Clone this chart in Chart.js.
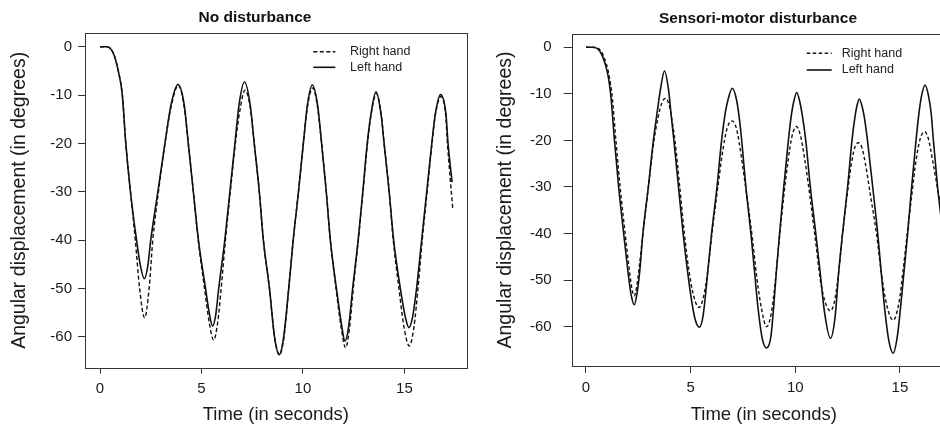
<!DOCTYPE html>
<html>
<head>
<meta charset="utf-8">
<script src="https://cdn.jsdelivr.net/npm/chart.js"></script>
<style>
  html, body { margin: 0; padding: 0; background: #fff; overflow: hidden; }
  #page { position: relative; width: 940px; height: 429px; overflow: hidden; background: #fff; }
  canvas { position: absolute; top: 0; }
  #cNone { left: 0; }
  #cSensori { left: 470px; }
</style>
</head>
<body>
<div id="page">
  <canvas id="cNone" width="470" height="429"></canvas>
  <canvas id="cSensori" width="500" height="429"></canvas>
</div>
<script>
// Angular displacement (degrees) over time (seconds), as [time, angle] pairs.

// Panel 1: no disturbance
const noDistRightHand = [
  [0,0],[0.3,0],[0.5,-0.3],[0.7,-1.8],[0.9,-5],[1.1,-10],[1.27,-20],[1.5,-30],[1.74,-40],[1.95,-50],
  [2.2,-56.1],[2.42,-50],[2.6,-40],[2.88,-30],[3.2,-20],[3.5,-12.5],[3.86,-8],[4.15,-12.5],[4.35,-20],
  [4.6,-30],[4.84,-40],[5.15,-50],[5.38,-57],[5.6,-60.7],[5.8,-57],[5.97,-50],[6.18,-40],[6.42,-30],
  [6.67,-20],[6.9,-13],[7.14,-9],[7.4,-12.5],[7.6,-20],[7.85,-30],[8.05,-40],[8.35,-50],[8.6,-60],
  [8.85,-63.7],[9.07,-60],[9.3,-50],[9.52,-40],[9.78,-30],[10.02,-20],[10.22,-12.5],[10.48,-8.5],
  [10.72,-12.5],[10.92,-20],[11.15,-30],[11.35,-40],[11.63,-50],[11.88,-58],[12.1,-62.3],[12.3,-58],
  [12.48,-50],[12.73,-40],[12.96,-30],[13.18,-20],[13.36,-14],[13.62,-9.7],[13.86,-14],[14.0,-20],
  [14.25,-30],[14.45,-40],[14.73,-50],[14.98,-58],[15.24,-61.9],[15.47,-58],[15.67,-50],[15.88,-40],
  [16.12,-30],[16.36,-20],[16.53,-14],[16.8,-10.3],[17.03,-14],[17.12,-20],[17.38,-33.4]
];
const noDistLeftHand = [
  [0,0],[0.3,0],[0.5,-0.3],[0.7,-1.8],[0.9,-5],[1.1,-10],[1.27,-20],[1.5,-30],[1.8,-40],[2.0,-45.5],
  [2.18,-48],[2.35,-45.5],[2.5,-40],[2.85,-30],[3.2,-20],[3.5,-12],[3.84,-7.8],[4.15,-12],[4.35,-20],
  [4.6,-30],[4.85,-40],[5.2,-50],[5.4,-55.5],[5.55,-57.8],[5.7,-55.5],[5.85,-50],[6.15,-40],[6.4,-30],
  [6.65,-20],[6.85,-12],[7.12,-7.3],[7.4,-12],[7.6,-20],[7.85,-30],[8.05,-40],[8.35,-50],[8.6,-60],
  [8.83,-63.7],[9.05,-60],[9.3,-50],[9.52,-40],[9.78,-30],[10.02,-20],[10.22,-12],[10.46,-7.9],
  [10.72,-12],[10.92,-20],[11.15,-30],[11.35,-40],[11.65,-50],[11.92,-58],[12.07,-60.9],[12.25,-58],
  [12.45,-50],[12.72,-40],[12.95,-30],[13.17,-20],[13.35,-14],[13.6,-9.3],[13.85,-14],[14.0,-20],
  [14.25,-30],[14.47,-40],[14.8,-50],[15.05,-56],[15.22,-58.1],[15.4,-56],[15.6,-50],[15.85,-40],
  [16.1,-30],[16.35,-20],[16.52,-14],[16.78,-9.9],[17.05,-14],[17.15,-20],[17.35,-28]
];

// Panel 2: sensori-motor disturbance
const sensoriRightHand = [
  [0,0],[0.3,0],[0.6,-0.3],[0.85,-2],[1.1,-6],[1.26,-11],[1.43,-20],[1.63,-30],[1.87,-40],[2.05,-47],
  [2.18,-51.5],[2.3,-53.4],[2.42,-51.5],[2.55,-47],[2.72,-40],[2.98,-30],[3.25,-20],[3.45,-15],[3.62,-12],
  [3.8,-10.95],[3.98,-12.5],[4.12,-16],[4.25,-20],[4.48,-30],[4.7,-40],[4.92,-48],[5.15,-53.5],[5.4,-55.9],
  [5.62,-53.5],[5.82,-48],[6.02,-40],[6.3,-30],[6.56,-21.5],[6.75,-17.3],[6.98,-15.8],[7.18,-17.3],
  [7.32,-20.5],[7.5,-26],[7.72,-33],[7.95,-41],[8.15,-49],[8.38,-56],[8.63,-60],[8.86,-57],[9.05,-50],
  [9.22,-42],[9.45,-32],[9.65,-24.5],[9.85,-19],[10.05,-17],[10.25,-19],[10.45,-24],[10.7,-32],
  [10.98,-42],[11.2,-50],[11.45,-55],[11.68,-56.6],[11.9,-54],[12.08,-48],[12.26,-40],[12.5,-31],
  [12.72,-24],[12.87,-21.2],[13.02,-20.5],[13.18,-21.5],[13.35,-25],[13.6,-32],[13.88,-40],[14.1,-48],
  [14.35,-55],[14.68,-58.6],[14.95,-55],[15.15,-48],[15.35,-40],[15.56,-32],[15.78,-24],[15.98,-19.5],
  [16.17,-18.1],[16.35,-19.5],[16.55,-24],[16.88,-32.4],[16.95,-34]
];
const sensoriLeftHand = [
  [0,0],[0.3,0],[0.55,-0.3],[0.8,-2],[1.05,-6],[1.2,-11],[1.36,-20],[1.56,-30],[1.8,-40],[2.0,-48],
  [2.15,-53],[2.31,-55.3],[2.45,-52.5],[2.57,-48],[2.72,-40],[2.98,-30],[3.22,-20],[3.4,-14],[3.56,-9],
  [3.75,-5.1],[3.94,-9],[4.08,-15],[4.2,-20],[4.42,-30],[4.64,-40],[4.85,-48],[5.05,-54.5],[5.22,-58.5],
  [5.42,-60.1],[5.6,-57.5],[5.78,-50],[6.0,-40],[6.26,-30],[6.48,-20],[6.66,-14],[6.8,-11],[6.99,-8.8],
  [7.18,-11],[7.32,-15],[7.44,-20],[7.64,-30],[7.88,-40],[8.05,-48],[8.22,-56],[8.42,-62.5],[8.63,-64.6],
  [8.84,-62],[8.98,-55],[9.1,-48],[9.25,-40],[9.45,-30],[9.67,-20],[9.8,-15],[9.92,-11.8],[10.07,-9.7],
  [10.22,-11.8],[10.35,-15],[10.5,-20],[10.72,-30],[10.98,-40],[11.18,-48],[11.4,-57],[11.68,-62.5],
  [11.9,-58],[12.08,-48],[12.26,-40],[12.5,-30],[12.71,-20],[12.85,-15],[12.95,-12.5],[13.06,-11.1],
  [13.18,-12.5],[13.3,-15],[13.45,-20],[13.7,-30],[13.94,-40],[14.1,-48],[14.28,-56.5],[14.47,-63],
  [14.68,-65.7],[14.88,-62],[15.05,-55],[15.2,-48],[15.37,-40],[15.56,-30],[15.77,-20],[15.9,-14.5],
  [16.03,-10.5],[16.2,-8.1],[16.37,-10.5],[16.5,-14.5],[16.6,-20],[16.8,-30],[16.95,-36]
];

// Axis ticks and labels
const timeTicks = [0, 5, 10, 15];
const angleTicks = [0, -10, -20, -30, -40, -50, -60];
const seriesLabels = ['Right hand', 'Left hand'];
const panelTitles = ['No disturbance', 'Sensori-motor disturbance'];
const xAxisTitle = 'Time (in seconds)';
const yAxisTitle = 'Angular displacement (in degrees)';

const FONT = '"Liberation Sans", Arial, Helvetica, sans-serif';
const INK = '#1a1a1a';

// Box around the plotting region
const framePlugin = {
  id: 'frame',
  afterDraw(chart) {
    const a = chart.chartArea, ctx = chart.ctx;
    ctx.save();
    ctx.strokeStyle = '#333';
    ctx.lineWidth = 1;
    ctx.strokeRect(Math.round(a.left) + 0.5, Math.round(a.top) + 0.5,
                   Math.round(a.right - a.left), Math.round(a.bottom - a.top));
    ctx.restore();
  }
};

// Bold panel heading
const headingPlugin = {
  id: 'heading',
  afterDraw(chart, args, opts) {
    const ctx = chart.ctx;
    ctx.save();
    ctx.font = 'bold 15.5px ' + FONT;
    ctx.fillStyle = '#111';
    ctx.textAlign = 'center';
    ctx.textBaseline = 'middle';
    ctx.fillText(opts.text, opts.x, opts.y);
    ctx.restore();
  }
};

// Line-style key inside the plotting region
const keyPlugin = {
  id: 'key',
  afterDraw(chart, args, opts) {
    const ctx = chart.ctx, a = chart.chartArea;
    ctx.save();
    ctx.font = '12.5px ' + FONT;
    ctx.textBaseline = 'middle';
    ctx.textAlign = 'left';
    chart.data.datasets.forEach((ds, i) => {
      const y = a.top + opts.dy + i * opts.rowH;
      const x0 = a.left + opts.dx;
      ctx.strokeStyle = ds.borderColor;
      ctx.lineWidth = ds.borderWidth;
      ctx.setLineDash(ds.borderDash || []);
      ctx.beginPath();
      ctx.moveTo(x0, y);
      ctx.lineTo(x0 + opts.lineLen, y);
      ctx.stroke();
      ctx.setLineDash([]);
      ctx.fillStyle = '#222';
      ctx.fillText(ds.label, x0 + opts.lineLen + opts.gap, y);
    });
    ctx.restore();
  }
};

function toPoints(pairs) {
  return pairs.map(p => ({ x: p[0], y: p[1] }));
}

function makePanel(canvasId, cfg) {
  return new Chart(document.getElementById(canvasId), {
    type: 'line',
    data: {
      datasets: [
        { label: seriesLabels[0], data: toPoints(cfg.right), borderColor: '#111', borderWidth: 1.4,
          borderDash: cfg.dash, pointRadius: 0, fill: false, cubicInterpolationMode: 'monotone' },
        { label: seriesLabels[1], data: toPoints(cfg.left), borderColor: '#111', borderWidth: 1.6,
          pointRadius: 0, fill: false, cubicInterpolationMode: 'monotone' }
      ]
    },
    options: {
      responsive: false,
      animation: false,
      events: [],
      layout: { padding: { left: 0, top: cfg.top, right: cfg.padRight, bottom: 0 } },
      plugins: {
        legend: { display: false },
        tooltip: { enabled: false },
        heading: { text: cfg.title, x: cfg.titleX, y: cfg.titleY },
        key: cfg.key
      },
      scales: {
        x: {
          type: 'linear',
          min: cfg.xMin, max: cfg.xMax,
          afterBuildTicks: s => { s.ticks = timeTicks.map(v => ({ value: v })); },
          afterFit: s => { s.height = cfg.xAxisH; },
          border: { display: false },
          grid: { drawOnChartArea: false, drawTicks: true, tickLength: cfg.xTickLen, color: '#333', lineWidth: 1 },
          ticks: { font: { family: FONT, size: 15 }, color: INK, padding: 6, maxRotation: 0 },
          title: { display: true, text: xAxisTitle, color: INK,
                   font: { family: FONT, size: 18.5 }, padding: { top: 0, bottom: 2.9 } }
        },
        y: {
          type: 'linear',
          min: cfg.yMin, max: cfg.yMax,
          afterBuildTicks: s => { s.ticks = angleTicks.map(v => ({ value: v })); },
          afterFit: s => { s.width = cfg.yAxisW; },
          border: { display: false },
          grid: { drawOnChartArea: false, drawTicks: true, tickLength: cfg.yTickLen, color: '#333', lineWidth: 1 },
          ticks: { font: { family: FONT, size: 15 }, color: INK, padding: cfg.yTickPad },
          title: { display: true, text: yAxisTitle, color: INK,
                   font: { family: FONT, size: 19.5 }, padding: { top: cfg.yTitlePad, bottom: 0 } }
        }
      }
    },
    plugins: [framePlugin, headingPlugin, keyPlugin]
  });
}

makePanel('cNone', {
  right: noDistRightHand, left: noDistLeftHand, dash: [4, 2.5],
  title: panelTitles[0], titleX: 255, titleY: 17.5,
  top: 33, padRight: 3.3, xAxisH: 61.3, yAxisW: 85,
  xMin: -0.74, xMax: 18.07, yMin: -66.4, yMax: 2.85,
  xTickLen: 6, yTickLen: 7, yTickPad: 6, yTitlePad: 8,
  key: { dx: 228.3, dy: 18.7, rowH: 15.6, lineLen: 22, gap: 14.7 }
});

makePanel('cSensori', {
  right: sensoriRightHand, left: sensoriLeftHand, dash: [3.5, 2.5],
  title: panelTitles[1], titleX: 288, titleY: 18.3,
  top: 34, padRight: 14, xAxisH: 63, yAxisW: 101.7,
  xMin: -0.683, xMax: 17.68, yMin: -68.45, yMax: 2.85,
  xTickLen: 7, yTickLen: 8, yTickPad: 12, yTitlePad: 24.3,
  key: { dx: 235, dy: 19.3, rowH: 16.7, lineLen: 25, gap: 10 }
});
</script>
</body>
</html>
